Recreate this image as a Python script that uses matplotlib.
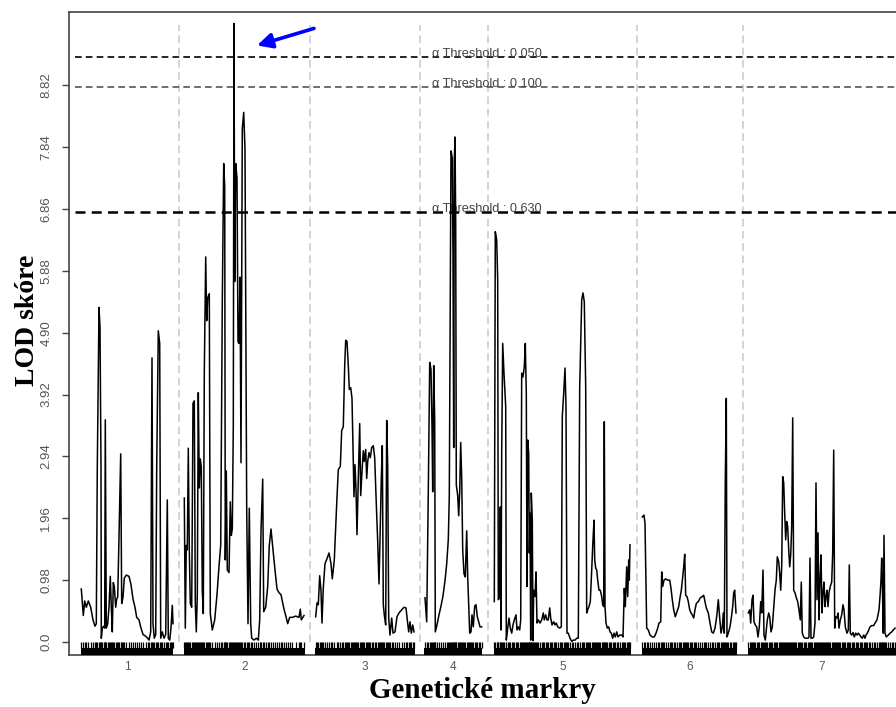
import numpy as np
import matplotlib
matplotlib.use("Agg")
import matplotlib.pyplot as plt

# chromosome extents along the genome axis (cumulative map units)
chrom_names = ["1", "2", "3", "4", "5", "6", "7"]
chrom_start = [81, 184, 315, 424, 494, 642, 748]
chrom_end = [173, 305, 415, 482, 631, 737, 896]

# LOD profile, per chromosome: positions and LOD scores
pos1 = [81.3, 83.3, 84.7, 86.3, 88.3, 90.7, 93, 95, 96.3, 97.3, 99, 100, 101, 101.3, 102.3, 103.7,
        104.7, 105.3, 106.3, 107.7, 109, 110.3, 111.3, 112.3, 113.3, 114.3, 115.7, 116.7, 117.7, 119,
        120.7, 121.7, 123, 124.3, 126.3, 129, 131, 133, 135, 136.7, 139, 141, 143, 145.7, 147.7, 149,
        150.7, 152, 153, 154.3, 155.7, 156.7, 158.3, 159.7, 160.7, 162.3, 164, 165.7, 167.3, 168.3,
        169.7, 171, 172.3, 173]
lod1 = [0.84, 0.42, 0.65, 0.55, 0.65, 0.55, 0.35, 0.25, 0.29, 2.77, 5.30, 4.99, 2.77, 0.06, 0.22, 0.25,
        0.22, 3.52, 0.22, 0.29, 0.55, 1.04, 0.55, 0.16, 0.94, 0.88, 0.55, 0.68, 0.71, 1.66,
        2.98, 0.61, 0.71, 1.01, 1.06, 1.04, 0.91, 0.68, 0.55, 0.39, 0.35, 0.22, 0.12, 0.09, 0.06, 0.03,
        0.16, 4.50, 0.29, 0.06, 0.12, 2.77, 4.93, 4.73, 0.06, 0.16, 0.06, 0.12, 2.25, 0.06,
        0.03, 0.22, 0.58, 0.29]

pos2 = [184.3, 185.3, 186.3, 187.3, 188.3, 189.3, 190.3, 191.7, 193, 194.3, 195.3, 196.3, 197.3, 198.3,
        199.3, 200.3, 201.3, 202.3, 203.3, 204.3, 205.7, 206.7, 207.7, 209.3, 210.3, 212.3, 214.7, 217,
        219, 220.7, 222.3, 223.7, 224.7, 225.3, 226.3, 227.3, 229, 230.3, 231.3, 232.3, 233.3, 234,
        234.7, 235.7, 237, 238, 239, 240, 241, 242.3, 243.7, 245, 246.7, 248, 249.3, 250.7, 251.7,
        254, 256.3, 258.3, 259.7, 261, 262.7, 263.7, 265.7, 267.7, 269.3, 271, 273, 275, 277, 279,
        281, 282.3, 284, 285.7, 287.7, 289.7, 292.3, 295.7, 299, 300.3, 301.3, 304]
lod2 = [2.28, 0.22, 1.53, 1.46, 3.07, 1.46, 0.61, 0.55, 3.78, 3.82, 0.61, 0.16, 0.75, 3.95,
        2.44, 2.90, 2.77, 0.81, 0.45, 4.27, 6.10, 5.09, 5.45, 5.52, 0.45, 0.19, 0.35, 0.75,
        1.20, 1.53, 5.39, 7.58, 7.22, 1.30, 2.71, 1.14, 1.10, 2.22, 1.69, 1.79, 3.42, 9.80,
        5.71, 7.58, 7.35, 4.76, 4.73, 5.78, 2.84, 8.13, 8.39, 7.80, 2.12, 0.29, 2.12, 0.29, 0.06,
        0.03, 0.06, 0.03, 0.35, 1.76, 2.58, 0.48, 0.55, 0.88, 1.53, 1.79, 1.46, 1.14, 0.84, 0.78,
        0.75, 0.65, 0.52, 0.42, 0.29, 0.39, 0.39, 0.41, 0.39, 0.52, 0.35, 0.42]

pos3 = [315.7, 317, 318.3, 319.7, 321, 322, 323.3, 325, 327, 329, 331, 332.3, 334.3, 336.7, 338.3,
        340.3, 341.7, 343.3, 344.7, 345.7, 347, 348.3, 349.3, 350.7, 352, 353, 354, 355, 356, 357,
        358.3, 359.7, 360.7, 362, 363.3, 364.3, 365.7, 366.7, 367.7, 369, 370.3, 371.7, 373.3, 374.7,
        376, 377.7, 379, 380.3, 381.3, 382.3, 383.3, 384.3, 385.7, 386.7, 387.7, 388.7, 390, 391.7,
        393, 395, 397, 399, 401.7, 404, 406, 407.3, 408.7, 410, 411.3, 412.7, 414]
lod3 = [0.40, 0.62, 0.59, 1.05, 0.81, 0.30, 0.86, 1.24, 1.32, 1.41, 1.24, 1.00, 1.30, 2.19, 2.73,
        2.78, 3.35, 3.41, 4.38, 4.78, 4.76, 4.38, 4.00, 4.03, 3.86, 3.08, 2.30, 2.81, 2.43, 1.70,
        2.59, 3.46, 2.32, 2.70, 3.03, 2.86, 3.05, 2.59, 2.86, 3.00, 2.92, 3.08, 3.11, 2.92,
        2.32, 1.59, 0.92, 1.84, 2.59, 3.11, 0.59, 0.43, 0.27, 3.51, 2.78, 0.38, 0.11, 0.38,
        0.14, 0.16, 0.40, 0.46, 0.51, 0.55, 0.54, 0.35, 0.16, 0.32, 0.14, 0.27, 0.16]

pos4 = [425, 426.7, 428.3, 429.7, 431, 432, 432.7, 433.7, 434.7, 435.3, 437, 439, 441, 443, 445,
        446.7, 448.3, 449.3, 450.3, 451, 452.3, 453, 453.7, 454.3, 455, 455.7, 456.3, 457.7, 458.7,
        459.7, 460.7, 461.7, 462.7, 464, 465.3, 466.7, 467.7, 468.7, 469.7, 471, 472, 473.3, 474.7,
        476, 477.3, 478.7, 480, 481.7]
lod4 = [0.70, 0.32, 2.38, 4.43, 4.32, 3.41, 2.38, 4.38, 3.51, 0.16, 0.27, 0.43, 0.57, 0.73, 0.97,
        1.24, 1.62, 2.32, 5.57, 7.78, 7.67, 6.11, 3.08, 7.62, 8.00, 6.65, 2.49, 2.32, 2.00,
        2.38, 3.16, 2.59, 1.46, 1.08, 1.03, 1.76, 1.03, 0.59, 0.14, 0.16, 0.43, 0.24, 0.57,
        0.59, 0.40, 0.32, 0.24, 0.24]

pos5 = [494.3, 495.3, 496.7, 497.7, 498.3, 499.7, 500.3, 501, 501.7, 502.7, 504, 505.7, 506.3, 507.7,
        509, 510.3, 511.7, 513, 514.3, 516, 517, 518.3, 519.7, 520.7, 521.7, 523, 524.3, 525.3,
        526.3, 527, 527.7, 528.7, 529.3, 530, 530.7, 531.3, 532.3, 533, 533.7, 535, 536, 537,
        538.3, 540, 541.7, 543.3, 544.3, 545.7, 547, 548.3, 549.7, 550.7, 552, 553.7, 555, 556.3,
        557.7, 559.7, 561.3, 562.3, 563.7, 565, 566, 567, 568.3, 570, 571.7, 573.3, 575, 576.7,
        578.3, 579.7, 581.7, 583, 584.3, 585.7, 586.7, 587.7, 589, 590.3, 591.7, 593, 594, 594.7,
        595.7, 596.7, 597.7, 599, 600.3, 601.7, 602.7, 603.7, 604.3, 605, 606, 607.3, 608.7, 610,
        611.3, 612.7, 614, 615.3, 616.7, 618, 619.7, 621.7, 623, 624.3, 625.3, 626.7, 627.7, 628.7,
        629.3, 630]
lod5 = [0.64, 6.50, 6.37, 5.73, 0.67, 0.70, 2.14, 0.19, 3.00, 4.73, 4.25, 3.73, 0.03, 0.22,
        0.38, 0.22, 0.14, 0.27, 0.35, 0.43, 0.19, 0.24, 0.19, 0.35, 4.26, 4.20, 4.36, 4.73,
        3.94, 0.88, 3.20, 2.99, 1.41, 2.04, 0.03, 2.36, 1.93, 0.02, 0.82, 0.72, 1.11, 0.30,
        0.35, 0.30, 0.35, 0.46, 0.35, 0.43, 0.35, 0.35, 0.54, 0.38, 0.27, 0.32, 0.27, 0.30,
        0.24, 0.22, 0.24, 3.57, 3.94, 4.34, 3.73, 0.14, 0.14, 0.06, 0.01, 0.03, 0.03, 0.06,
        0.06, 4.04, 5.42, 5.53, 5.39, 4.04, 0.46, 0.51, 0.56, 0.64, 1.14, 1.62, 1.93, 1.30,
        1.17, 1.14, 0.98, 0.82, 0.82, 0.72, 0.59, 0.56, 3.49, 0.56, 0.30, 0.22, 0.24, 0.16,
        0.14, 0.06, 0.14, 0.08, 0.16, 0.08, 0.11, 0.11, 0.08, 0.85, 0.56, 1.19, 0.72, 1.30,
        0.98, 1.54]

pos6 = [642.3, 644, 645, 646.7, 648.3, 650, 652.3, 654.3, 656, 657.7, 659, 660.7, 661.7, 662.7, 664,
        665.7, 667.7, 669.7, 671, 672.3, 673.7, 675.3, 677, 678.7, 680, 681.3, 682.7, 683.7, 684.7,
        685.7, 687, 688.3, 689.7, 691, 692.3, 693.7, 695, 696.3, 698.3, 700.3, 702.3, 703.7, 705,
        706.3, 708.3, 710, 711.7, 713.3, 715, 716.7, 718.3, 719.3, 721, 722.3, 723.3, 724.3, 725.3,
        726.3, 727, 728.3, 730, 731.3, 732.7, 733.7, 734.7, 736]
lod6 = [1.98, 2.01, 1.88, 0.22, 0.19, 0.11, 0.08, 0.08, 0.14, 0.22, 0.30, 0.32, 1.11, 0.88, 0.98,
        1.00, 0.98, 0.98, 0.85, 0.67, 0.51, 0.40, 0.48, 0.56, 0.70, 0.82, 1.03, 1.19, 1.39,
        0.74, 0.72, 0.64, 0.51, 0.46, 0.43, 0.38, 0.51, 0.61, 0.64, 0.70, 0.72, 0.74, 0.64,
        0.54, 0.46, 0.30, 0.16, 0.14, 0.22, 0.40, 0.67, 0.46, 0.14, 0.24, 0.46, 0.14, 2.57,
        3.86, 0.08, 0.14, 0.24, 0.38, 0.56, 0.78, 0.82, 0.46]

pos7 = [748.3, 749.7, 750.7, 752, 753, 754, 755.3, 756.7, 758, 759.3, 760.7, 761.7, 763, 764, 765.3,
        766.3, 767.3, 768.7, 769.7, 771, 772.3, 773.7, 775, 776.3, 777.3, 778.7, 779.7, 780.7, 781.7,
        782.7, 783.7, 784.7, 785.7, 786.7, 787.7, 788.7, 789.7, 790.7, 791.7, 792.7, 793.7, 795,
        796.3, 797.7, 799, 800.3, 801.3, 802.3, 803.7, 805, 806.3, 808, 809, 810, 811, 812.3, 813.7,
        815, 816, 817, 818, 819, 820, 821, 822, 823, 824, 825, 826, 827, 828, 829, 830.3, 831.7,
        832.7, 833.7, 834.7, 835.7, 837, 838, 839, 840.3, 841.7, 843, 844, 845.3, 847, 848.3, 849.3,
        850.3, 851.7, 853, 854.3, 855.7, 857, 858.3, 859.7, 861, 862.3, 863.7, 865, 866, 867.3,
        868.7, 870, 871.7, 873.7, 875, 877, 879, 880, 881, 881.7, 882.3, 883.3, 884, 885, 886.3,
        888.3, 890, 891.7, 893.3, 895]
lod7 = [0.46, 0.51, 0.30, 0.67, 0.74, 0.32, 0.27, 0.24, 0.08, 0.24, 0.64, 0.46, 1.14, 0.11, 0.03,
        0.19, 0.35, 0.46, 0.40, 0.16, 0.24, 0.54, 0.82, 0.98, 1.35, 1.27, 1.09, 0.82, 1.19,
        2.62, 2.52, 2.04, 1.62, 1.91, 1.83, 1.46, 1.19, 1.38, 1.83, 3.55, 0.82, 0.78,
        0.70, 0.64, 0.51, 0.35, 0.95, 0.14, 0.08, 0.06, 0.06, 0.06, 0.08, 1.33, 0.06, 0.06, 0.08,
        0.30, 2.52, 0.67, 1.73, 0.35, 0.98, 1.38, 0.46, 0.78, 0.95, 0.56, 0.72, 0.82, 0.56, 0.78, 0.88, 0.95,
        1.41, 3.04, 0.22, 0.40, 0.38, 0.46, 0.22, 0.35, 0.43, 0.59, 0.51, 0.24, 0.14, 0.19, 1.22,
        0.14, 0.11, 0.15, 0.08, 0.14, 0.11, 0.14, 0.11, 0.08, 0.06, 0.11, 0.06, 0.11, 0.14,
        0.19, 0.24, 0.26, 0.26, 0.30, 0.35, 0.51, 0.72, 0.98, 1.33, 0.98, 0.14, 1.69, 0.14, 0.08,
        0.11, 0.14, 0.16, 0.19, 0.22]

positions = [pos1, pos2, pos3, pos4, pos5, pos6, pos7]
lods = [lod1, lod2, lod3, lod4, lod5, lod6, lod7]

# permutation thresholds
thr_alpha = ["0.050", "0.100", "0.630"]
thr_lod = [9.27, 8.79, 6.81]
thr_color = ["black", "#555555", "black"]
thr_lw = [1.2, 1.2, 1.8]

ytick_vals = [0.0, 0.98, 1.96, 2.94, 3.92, 4.90, 5.88, 6.86, 7.84, 8.82]
ytick_labels = ["0.0", "0.98", "1.96", "2.94", "3.92", "4.90", "5.88", "6.86", "7.84", "8.82"]

W, H = 896, 707
fig = plt.figure(figsize=(W / 100, H / 100), dpi=100)
ax = fig.add_axes([69 / W, (H - 655) / H, (908 - 69) / W, (655 - 12) / H])
ax.set_xlim(69, 908)
ax.set_ylim(-0.206, 9.98)

# chromosome dividers
for i in range(len(chrom_start) - 1):
    xd = (chrom_end[i] + chrom_start[i + 1]) / 2
    ax.plot([xd, xd], [0, 9.78], color="#c8c8c8", lw=1.1, ls=(0, (5, 3)), zorder=1)

# threshold lines and labels
for a, t, c, w in zip(thr_alpha, thr_lod, thr_color, thr_lw):
    ax.plot([75, 908], [t, t], color=c, lw=w, ls=(0, (4, 2.5)), zorder=2)
    ax.text(432, t, "α Threshold : " + a, fontsize=9.2, color="#444444",
            family="Liberation Sans", va="baseline", ha="left", zorder=3)

# LOD profile
for p, l in zip(positions, lods):
    ax.plot(p, l, color="black", lw=1.1, zorder=4)

# marker rug
for s, e, p in zip(chrom_start, chrom_end, positions):
    ax.fill_between([s, e], -0.206, -0.1, color="black", lw=0, zorder=5)
    ax.vlines(p, -0.1, 0.0, color="black", lw=0.9, zorder=5)

# arrow pointing at the top peak
ax.annotate("", xy=(257, 9.45), xytext=(314, 9.72),
            arrowprops=dict(arrowstyle="-|>,head_length=0.9,head_width=0.45",
                            color="#0000ff", lw=2.6, shrinkA=0, shrinkB=0), zorder=6)

for sp in ["left", "top", "bottom"]:
    ax.spines[sp].set_color("#444444")
    ax.spines[sp].set_linewidth(1.2)
ax.spines["right"].set_visible(False)

ax.set_yticks(ytick_vals)
ax.set_yticklabels(ytick_labels, rotation=90, va="center", fontsize=9.5,
                   color="#555555", family="Liberation Sans")
ax.tick_params(axis="y", length=5, width=1, color="#444444", pad=7)

centers = [(s + e) / 2 for s, e in zip(chrom_start, chrom_end)]
ax.set_xticks(centers)
ax.set_xticklabels(chrom_names, fontsize=8.5, color="#555555", family="Liberation Sans")
ax.tick_params(axis="x", length=0, pad=4)

fig.text(482 / W, 1 - 690 / H, "Genetické markry", ha="center", va="center",
         fontsize=21, fontweight="bold", family="Liberation Serif")
fig.text(27 / W, 1 - 320 / H, "LOD skóre", ha="center", va="center", rotation=90,
         fontsize=20, fontweight="bold", family="Liberation Serif")

fig.savefig("out.png", dpi=100)
